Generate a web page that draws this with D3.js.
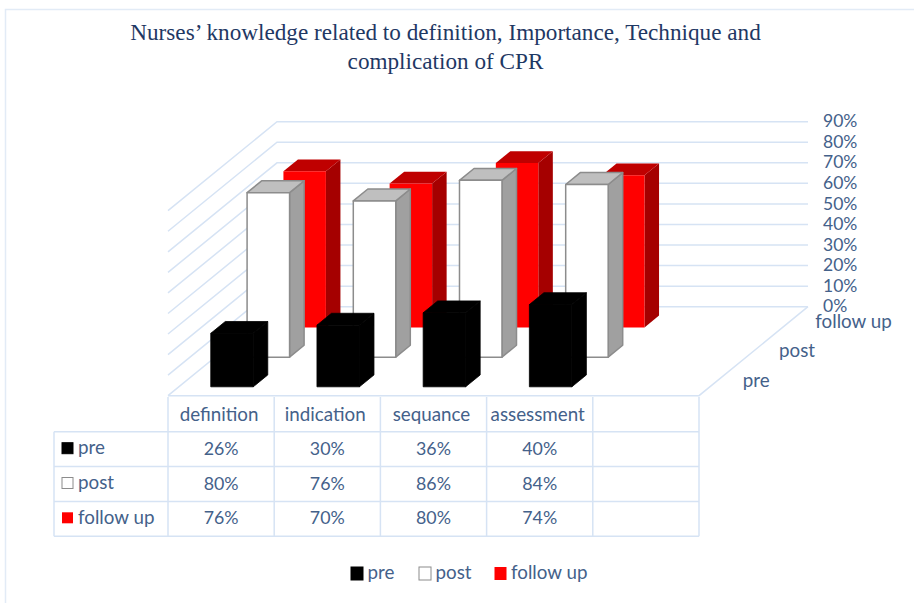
<!DOCTYPE html>
<html>
<head>
<meta charset="utf-8">
<script src="https://cdn.jsdelivr.net/npm/d3@7"></script>
<style>
  html, body { margin: 0; padding: 0; background: #fff; overflow: hidden; }
  svg { display: block; }
  .lbl { font-family: Lato, sans-serif; font-size: 18.8px; fill: #44618a; }
  .num { font-family: Lato, sans-serif; font-size: 17.8px; fill: #44618a; }
  .tick text { font-family: Lato, sans-serif; font-size: 17.5px; fill: #44618a; }
</style>
</head>
<body>
<div id="chart"></div>
<script>
const titleLines = ["Nurses\u2019 knowledge related to definition, Importance, Technique and", "complication of CPR"];
const categories = ["definition", "indication", "sequance", "assessment"];
const seriesNames = ["pre", "post", "follow up"];
const pre = [26, 30, 36, 40];
const post = [80, 76, 86, 84];
const followUp = [76, 70, 80, 74];
const yTicks = [0, 10, 20, 30, 40, 50, 60, 70, 80, 90];

const seriesValues = [pre, post, followUp];
const faces = [
    {front: "#000000", side: "#000000", top: "#000000", stroke: "#000000", strokeWidth: 0.8},
    {front: "#ffffff", side: "#a0a0a0", top: "#bfbfbf", stroke: "#8c8c8c", strokeWidth: 1.5},
    {front: "#ff0000", side: "#a50000", top: "#bf0000", stroke: "none", strokeWidth: 0}
];
const gridColor = "#d6e3f4";

const width = 914, height = 603;
// floor corners of the fake 3d box
const floorLeft = 168, floorRight = 699, floorY = 395.7;
const depthX = 109, depthY = 89;

const svg = d3.select("#chart").append("svg")
    .attr("width", width)
    .attr("height", height);

// outer chart border, only left and top are in the crop
svg.append("path")
    .attr("d", "M5.5,603V9.5H914")
    .attr("fill", "none")
    .attr("stroke", "#e2ebf6")
    .attr("stroke-width", 1.5);

const title = svg.append("g")
    .attr("font-family", "'Liberation Serif', serif")
    .attr("font-size", 23.2)
    .attr("fill", "#1f3864")
    .attr("text-anchor", "middle");
titleLines.forEach((t, i) => {
    title.append("text")
        .attr("x", 445.5)
        .attr("y", 40 + i * 29)
        .text(t);
});

// scales: 5 slots along the floor, the last one stays empty
const x = d3.scaleBand()
    .domain([...categories, ""])
    .range([floorLeft, floorRight])
    .paddingInner(0.6)
    .paddingOuter(0.3);

const depth = d3.scaleBand()
    .domain(seriesNames)
    .range([0, 1])
    .paddingInner(0.6)
    .paddingOuter(0.3);

const y = d3.scaleLinear()
    .domain([0, 90])
    .range([floorY, floorY - 185]);

const project = (px, d, v) => [px + d * depthX, y(v) - d * depthY];
const line = d3.line();

// walls
const grid = svg.append("g")
    .attr("fill", "none")
    .attr("stroke", gridColor)
    .attr("stroke-width", 1.5);

grid.selectAll("path.wall")
    .data(yTicks)
    .enter()
    .append("path")
    .attr("class", "wall")
    .attr("d", d => line([
        project(floorLeft, 0, d),
        project(floorLeft, 1, d),
        project(floorRight, 1, d)
    ]));

// floor edges
grid.append("path")
    .attr("d", line([
        project(floorLeft, 0, 0),
        project(floorRight, 0, 0),
        project(floorRight, 1, 0)
    ]));

// bars, back series first so the front ones cover them
const barData = [];
seriesNames.forEach((name, s) => {
    categories.forEach((cat, c) => {
        barData.push({series: name, s: s, cat: cat, val: seriesValues[s][c]});
    });
});
barData.sort((a, b) => b.s - a.s);

const bars = svg.append("g")
    .selectAll("g")
    .data(barData)
    .enter()
    .append("g")
    .attr("stroke-linejoin", "round")
    .attr("stroke-width", d => faces[d.s].strokeWidth)
    .attr("stroke", d => faces[d.s].stroke);

const x0 = d => x(d.cat), x1 = d => x(d.cat) + x.bandwidth();
const d0 = d => depth(d.series), d1 = d => depth(d.series) + depth.bandwidth();

bars.append("path")
    .attr("fill", d => faces[d.s].side)
    .attr("d", d => line([
        project(x1(d), d0(d), 0),
        project(x1(d), d1(d), 0),
        project(x1(d), d1(d), d.val),
        project(x1(d), d0(d), d.val)
    ]) + "Z");

bars.append("path")
    .attr("fill", d => faces[d.s].top)
    .attr("d", d => line([
        project(x0(d), d0(d), d.val),
        project(x1(d), d0(d), d.val),
        project(x1(d), d1(d), d.val),
        project(x0(d), d1(d), d.val)
    ]) + "Z");

bars.append("path")
    .attr("fill", d => faces[d.s].front)
    .attr("d", d => line([
        project(x0(d), d0(d), 0),
        project(x1(d), d0(d), 0),
        project(x1(d), d0(d), d.val),
        project(x0(d), d0(d), d.val)
    ]) + "Z");

// value axis sits on the back wall
const yAxis = d3.axisRight(y)
    .tickValues(yTicks)
    .tickFormat(d => d + "%")
    .tickSize(0)
    .tickPadding(0)
    .offset(0);
svg.append("g")
    .attr("transform", `translate(823,${-depthY})`)
    .call(yAxis)
    .call(g => g.select(".domain").remove());

// depth labels along the right floor edge
svg.append("g")
    .selectAll("text")
    .data(seriesNames)
    .enter()
    .append("text")
    .attr("class", "lbl")
    .attr("x", d => project(floorRight, depth(d) + depth.bandwidth() / 2, 0)[0] + 25.5)
    .attr("y", d => project(floorRight, depth(d) + depth.bandwidth() / 2, 0)[1])
    .attr("dy", ".32em")
    .text(d => d);

// data table under the floor
const tableLeft = 54, tableTop = 397, rowH = 34.8;
const step = x.step();
const colEdges = d3.range(categories.length + 2).map(i => floorLeft + i * step);
const tableBottom = tableTop + rowH * 4;

const tbl = svg.append("g")
    .attr("fill", "none")
    .attr("stroke", gridColor)
    .attr("stroke-width", 1.5);

tbl.selectAll("path.col")
    .data(colEdges)
    .enter()
    .append("path")
    .attr("class", "col")
    .attr("d", d => `M${d},${tableTop}V${tableBottom}`);
tbl.append("path")
    .attr("d", `M${tableLeft},${tableTop + rowH}V${tableBottom}`);
tbl.selectAll("path.row")
    .data(d3.range(1, 5))
    .enter()
    .append("path")
    .attr("class", "row")
    .attr("d", i => `M${tableLeft},${tableTop + i * rowH}H${floorRight}`);

const cellX = cat => x(cat) + x.bandwidth() / 2;

svg.append("g")
    .selectAll("text")
    .data(categories)
    .enter()
    .append("text")
    .attr("class", "lbl")
    .attr("text-anchor", "middle")
    .attr("x", d => cellX(d) - 2)
    .attr("y", tableTop + rowH / 2 + 1)
    .attr("dy", ".32em")
    .text(d => d);

seriesNames.forEach((name, s) => {
    const rowY = tableTop + rowH * (s + 1.5);
    svg.append("rect")
        .attr("x", 62)
        .attr("y", rowY - 6.5)
        .attr("width", 11)
        .attr("height", 11)
        .attr("fill", faces[s].front)
        .attr("stroke", s === 2 ? "none" : faces[s].stroke)
        .attr("stroke-width", 1);
    svg.append("text")
        .attr("class", "lbl")
        .attr("x", 78)
        .attr("y", rowY - 1)
        .attr("dy", ".32em")
        .text(name);
    svg.append("g")
        .selectAll("text")
        .data(seriesValues[s])
        .enter()
        .append("text")
        .attr("class", "num")
        .attr("text-anchor", "middle")
        .attr("x", (d, i) => cellX(categories[i]))
        .attr("y", rowY)
        .attr("dy", ".32em")
        .text(d => d + "%");
});

// legend
const legendKeys = [351, 419, 494.5];
seriesNames.forEach((name, s) => {
    svg.append("rect")
        .attr("x", legendKeys[s])
        .attr("y", 567)
        .attr("width", 12)
        .attr("height", 13)
        .attr("fill", faces[s].front)
        .attr("stroke", s === 2 ? "none" : faces[s].stroke)
        .attr("stroke-width", 1);
    svg.append("text")
        .attr("class", "lbl")
        .attr("x", legendKeys[s] + 16.5)
        .attr("y", 573)
        .attr("dy", ".32em")
        .text(name);
});
</script>
</body>
</html>
